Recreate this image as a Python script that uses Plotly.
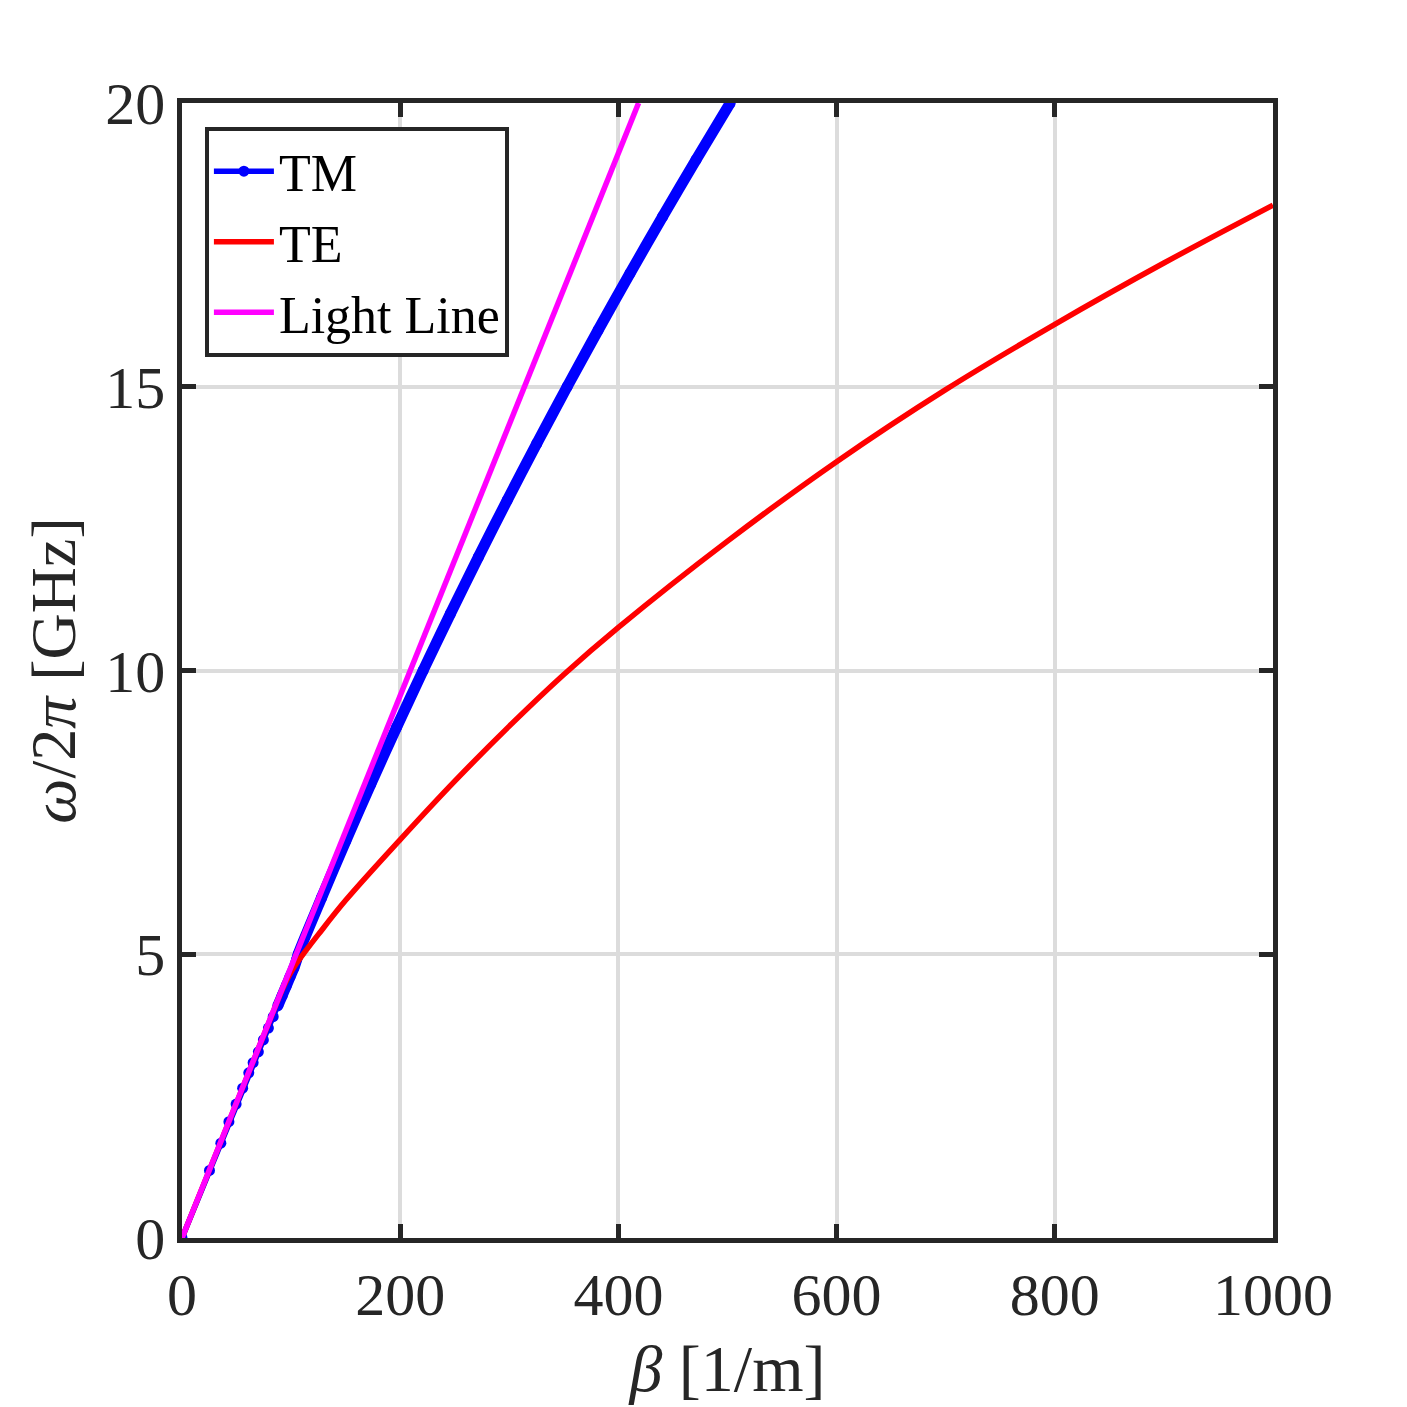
import plotly.graph_objects as go

# TM mode (beta [1/m], frequency [GHz])
tm_freq = [0, 1.19, 1.67, 2.05, 2.36, 2.64, 2.91, 3.09, 3.28, 3.49, 3.70, 3.90, 4.09,
           4.27, 4.44, 4.60, 4.76, 4.91, 5.0, 6.0, 7.0, 8.0, 9.0, 10.0, 11.0, 12.0,
           13.0, 14.0, 15.0, 16.0, 17.0, 18.0, 19.0, 20.0]
tm_beta = [0, 25.2, 35.6, 43.0, 49.6, 55.6, 61.2, 65.2, 70.0, 74.6, 79.2, 83.6, 87.8,
           91.8, 95.5, 99.0, 102.6, 105.2, 106.5, 128.0, 150.2, 173.1, 196.7, 221.0, 246.0, 271.7,
           298.1, 325.2, 353.0, 381.5, 410.7, 440.6, 471.2, 502.5]

# TE mode
te_beta = [0, 86, 92, 98, 105, 113, 125, 150, 200, 250, 300, 350, 400, 500, 600, 700, 800, 900, 1000]
te_freq = [0, 4.1, 4.38, 4.62, 4.84, 5.05, 5.35, 5.95, 7.02, 8.05, 9.02, 9.93, 10.76, 12.28, 13.68, 14.95, 16.1, 17.18, 18.2]

# Light line
ll_beta = [0, 418.5]
ll_freq = [0, 20]

x_ticks = [0, 200, 400, 600, 800, 1000]
y_ticks = [0, 5, 10, 15, 20]

dark = "#262626"
font_family = "Liberation Serif, Times New Roman, serif"

fig = go.Figure()

# dense TM markers merge into a thick band
dense_start = tm_freq.index(4.09)
fig.add_trace(go.Scatter(x=tm_beta[dense_start:], y=tm_freq[dense_start:], mode="lines",
                         line=dict(color="#0000ff", width=11, shape="spline", smoothing=0.8),
                         showlegend=False, hoverinfo="skip"))
fig.add_trace(go.Scatter(x=tm_beta, y=tm_freq, mode="lines+markers", name="TM",
                         line=dict(color="#0000ff", width=5.5),
                         marker=dict(color="#0000ff", size=11, symbol="circle")))
fig.add_trace(go.Scatter(x=te_beta, y=te_freq, mode="lines", name="TE",
                         line=dict(color="#ff0000", width=5.5, shape="spline", smoothing=1.0)))
fig.add_trace(go.Scatter(x=ll_beta, y=ll_freq, mode="lines", name="Light Line",
                         line=dict(color="#ff00ff", width=5.5)))

axis_common = dict(
    showgrid=True, gridcolor="#dcdcdc", gridwidth=4,
    showline=True, linecolor=dark, linewidth=4.5, mirror="ticks",
    ticks="inside", ticklen=14, tickwidth=4.5, tickcolor=dark,
    zeroline=False,
    tickfont=dict(family=font_family, size=60, color=dark),
)

fig.update_xaxes(range=[0, 1000], tickvals=x_ticks, ticktext=[str(v) for v in x_ticks],
                 title=dict(text="<i>β</i> [1/m]", font=dict(family=font_family, size=66, color=dark),
                            standoff=20),
                 **axis_common)
fig.update_yaxes(range=[0, 20], tickvals=y_ticks, ticktext=[str(v) for v in y_ticks],
                 title=dict(text="<i>ω</i>/2<i>π</i> [GHz]", font=dict(family=font_family, size=64, color=dark),
                            standoff=10),
                 **axis_common)

fig.update_layout(
    width=1407, height=1407,
    margin=dict(l=182, r=134, t=103, b=169),
    plot_bgcolor="white", paper_bgcolor="white",
    font=dict(family=font_family, color="black"),
    legend=dict(x=0.021, y=0.979, xanchor="left", yanchor="top",
                bgcolor="white", bordercolor=dark, borderwidth=4,
                font=dict(family=font_family, size=52, color="black"),
                itemwidth=60, tracegroupgap=0),
    showlegend=True,
)

fig.write_html("out.html")
